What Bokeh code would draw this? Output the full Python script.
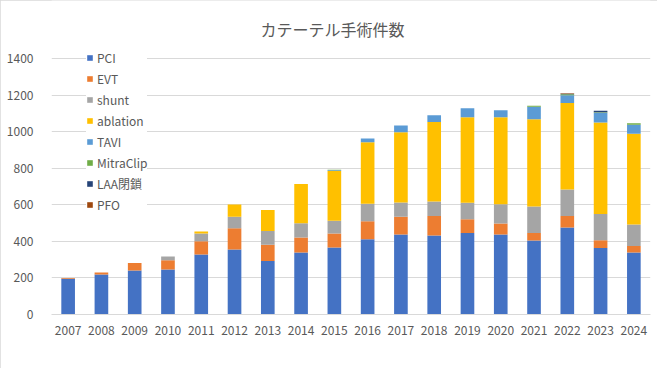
from bokeh.plotting import figure
from bokeh.models import ColumnDataSource, Legend, FixedTicker, FactorRange, Label
from bokeh.embed import file_html
from bokeh.resources import INLINE

years = [str(y) for y in range(2007, 2025)]
PCI = [195, 219, 241, 246, 328, 356, 293, 339, 366, 412, 438, 432, 446, 437, 405, 476, 363, 339]
EVT = [5, 11, 40, 51, 73, 116, 88, 82, 77, 98, 96, 107, 75, 61, 40, 63, 43, 36]
shunt = [0, 0, 0, 20, 42, 62, 75, 78, 69, 95, 79, 79, 90, 105, 146, 145, 144, 117]
ablation = [0, 0, 0, 0, 11, 68, 115, 215, 272, 337, 383, 434, 468, 476, 476, 473, 500, 496]
TAVI = [0, 0, 0, 0, 0, 0, 0, 0, 5, 20, 38, 38, 49, 38, 69, 42, 53, 49]
MitraClip = [0, 0, 0, 0, 0, 0, 0, 0, 3, 0, 0, 0, 0, 0, 5, 5, 3, 9]
LAA = [0, 0, 0, 0, 0, 0, 0, 0, 0, 0, 0, 0, 0, 0, 0, 3, 8, 0]
PFO = [0, 0, 0, 0, 0, 0, 0, 0, 0, 0, 0, 0, 0, 0, 0, 3, 0, 0]
y_ticks = [0, 200, 400, 600, 800, 1000, 1200, 1400]

series = ["PCI", "EVT", "shunt", "ablation", "TAVI", "MitraClip", "LAA閉鎖", "PFO"]
colors = ["#4472C4", "#ED7D31", "#A5A5A5", "#FFC000", "#5B9BD5", "#70AD47", "#264478", "#9E480E"]
title_text = "カテーテル手術件数"

src = ColumnDataSource(dict(year=years, PCI=PCI, EVT=EVT, shunt=shunt, ablation=ablation,
                            TAVI=TAVI, MitraClip=MitraClip, LAA=LAA, PFO=PFO))
keys = ["PCI", "EVT", "shunt", "ablation", "TAVI", "MitraClip", "LAA", "PFO"]

FONT = "Noto Sans CJK JP"
GRAY = "#595959"

# frame spans from the very top of the figure to the axis; the top of the value
# range is chosen so that 1400 lands at the same height as in the original chart
p = figure(width=657, height=368, x_range=FactorRange(*years), y_range=(0, 1717),
           output_backend="svg", toolbar_location=None,
           min_border_left=51, min_border_right=7, min_border_top=0, min_border_bottom=54,
           styles={"outline": "1px solid #D9D9D9", "outline-offset": "-1px"})

renderers = p.vbar_stack(keys, x="year", width=0.41, color=colors, source=src, line_width=0)

p.outline_line_color = None
p.xgrid.grid_line_color = None
p.ygrid.grid_line_color = "#D9D9D9"
p.ygrid.grid_line_width = 1
p.yaxis.ticker = FixedTicker(ticks=y_ticks)
for ax in (p.xaxis, p.yaxis):
    ax.major_tick_line_color = None
    ax.minor_tick_line_color = None
    ax.major_label_text_font = FONT
    ax.major_label_text_font_size = "12px"
    ax.major_label_text_color = GRAY
p.yaxis.axis_line_color = None
p.xaxis.axis_line_color = "#D9D9D9"
p.yaxis.major_label_standoff = 12
p.xaxis.major_label_standoff = 5

title = Label(x=281, y=286, x_units="screen", y_units="screen", text=title_text,
              text_align="center", text_baseline="middle", text_font=FONT,
              text_font_size="16px", text_color=GRAY)
p.add_layout(title)

items = [(name, [r]) for name, r in zip(series, renderers)]
legend = Legend(items=items, location=(35, 101), orientation="vertical",
                glyph_width=7, glyph_height=7, label_height=17, spacing=4,
                label_standoff=4, padding=17, margin=0,
                label_text_font=FONT, label_text_font_size="12px", label_text_color=GRAY,
                border_line_color=None, background_fill_color="white", background_fill_alpha=1.0)
p.add_layout(legend, "center")

open("out.html", "w").write(file_html(p, INLINE))
